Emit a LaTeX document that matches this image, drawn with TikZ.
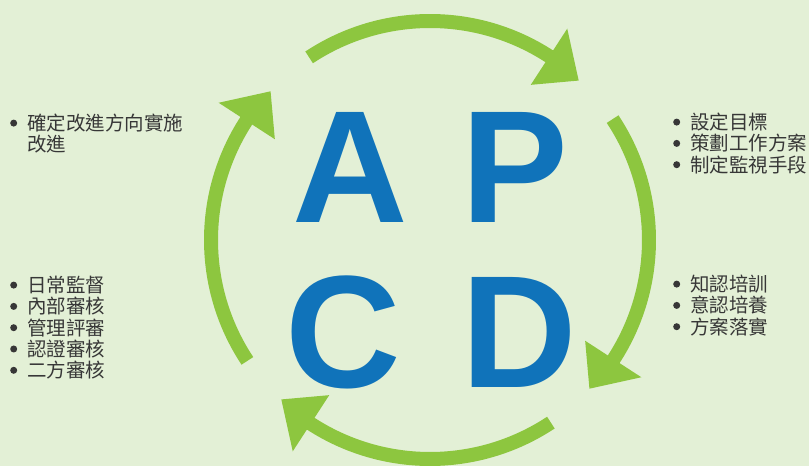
\documentclass[tikz,border=0pt]{standalone}
\usepackage{fontspec}
\newfontfamily\cjk{Noto Sans CJK TC}
\newfontfamily\letterfont{Liberation Sans}
\definecolor{bgcol}{RGB}{227,240,214}
\definecolor{arcgreen}{RGB}{141,198,63}
\definecolor{letterblue}{RGB}{16,115,186}
\definecolor{txtcol}{RGB}{55,55,55}
\newcommand\bul{\makebox[17pt][l]{\tikz[baseline=-7.4pt]\fill[txtcol](3.5pt,0) circle[radius=3.5pt];}}
\tikzset{
  bigletter/.style={inner sep=0pt, anchor=base, text=letterblue, font=\letterfont\bfseries\fontsize{160}{160}\selectfont},
  listtext/.style={inner sep=0pt, anchor=base west, align=left, text=txtcol, font=\cjk\fontsize{19.5}{21.3}\selectfont},
  cyclearc/.style={draw=arcgreen, line width=14pt, line cap=butt},
  arrowtip/.style={fill=arcgreen},
}
\begin{document}
\begin{tikzpicture}[x=1pt,y=1pt]
\fill[bgcol] (0,0) rectangle (809,466);
\useasboundingbox (0,0) rectangle (809,466);
% letters
\node[bigletter] (A) at (350,243) {A};
\node[bigletter] (P) at (515,243) {P};
\node[bigletter] (C) at (343,78) {C};
\node[bigletter] (D) at (519,78) {D};
% cycle arrows
\coordinate (O) at (430,226);
\begin{scope}[shift={(O)}]
\foreach \k in {0,1,2,3}{
  \pgfmathsetmacro\s{123.5-90*\k}
  \pgfmathsetmacro\b{56-90*\k}
  \pgfmathsetmacro\m{57-90*\k}
  \pgfmathsetmacro\t{47-90*\k}
  \draw[cyclearc] (\s:219) arc[start angle=\s, end angle=\b, radius=219];
  \fill[arrowtip] (\m:252) -- (\t:218) -- (\m:185) -- cycle;
}
\end{scope}
% lists (anchor = baseline of last line)
\node[listtext] (plan) at (10,314.2) {\bul 確定改進方向實施\\\hspace*{17pt}改進};
\node[listtext] (act) at (673,293.9) {\bul 設定目標\\\bul 策劃工作方案\\\bul 制定監視手段};
\node[listtext] (do) at (673,131.9) {\bul 知認培訓\\\bul 意認培養\\\bul 方案落實};
\node[listtext] (check) at (10,88.3) {\bul 日常監督\\\bul 內部審核\\\bul 管理評審\\\bul 認證審核\\\bul 二方審核};
\end{tikzpicture}
\end{document}
